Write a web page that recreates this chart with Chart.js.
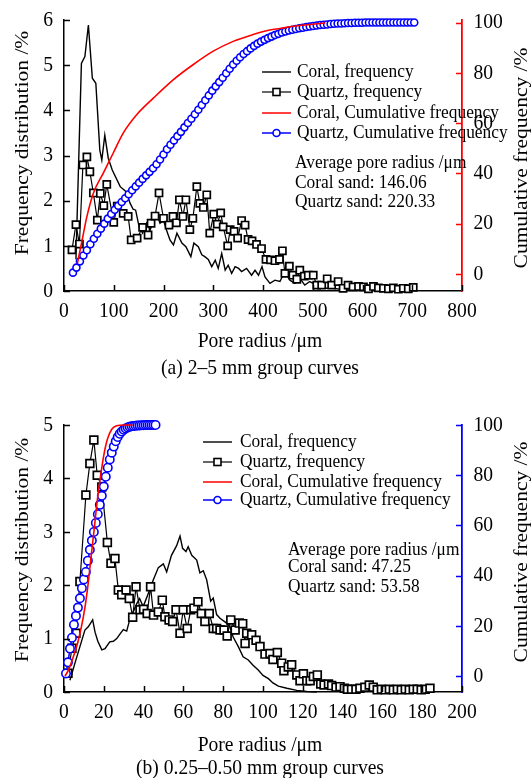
<!DOCTYPE html>
<html>
<head>
<meta charset="utf-8">
<title>Pore radius distribution curves</title>
<script src="https://cdn.jsdelivr.net/npm/chart.js@4.4.1/dist/chart.umd.min.js"></script>
<style>
  html, body { margin: 0; padding: 0; background: #fff; }
  canvas { display: block; }
</style>
</head>
<body>
<canvas id="chartA" width="531" height="380"></canvas>
<canvas id="chartB" width="531" height="398"></canvas>
<script>
// ---------- shared labels ----------
const seriesLabels = ['Coral, frequency', 'Quartz, frequency', 'Coral, Cumulative frequency', 'Quartz, Cumulative frequency'];
const xTitle = 'Pore radius /\u03bcm';
const leftTitle = 'Frequency distribution /%';
const rightTitle = 'Cumulative frequency /%';
const cumTicks = [0, 20, 40, 60, 80, 100];

// ---------- (a) 2–5 mm group ----------
const captionA = '(a) 2\u20135 mm group curves';
const notesA = ['Average pore radius /\u03bcm', 'Coral sand: 146.06', 'Quartz sand: 220.33'];

const coralFreqA_x = [24, 35, 42, 49, 57, 64, 72, 76, 82, 89, 97, 113, 125, 133, 139, 144, 151, 158, 166, 173, 181, 186, 193, 200, 206, 213, 220, 227, 237, 245, 255, 261, 270, 277, 283, 290, 297, 304, 310, 317, 324, 330, 337, 344, 351, 357, 367, 377, 384, 391, 398, 404, 414, 424, 434, 444, 454, 464, 474, 484, 494, 508, 521, 541, 560, 580];
const coralFreqA_y = [0.7, 5.04, 5.19, 5.89, 4.71, 4.6, 3.12, 2.9, 3.45, 2.94, 2.68, 2.31, 2.2, 1.94, 1.81, 1.79, 1.42, 1.28, 1.5, 1.35, 1.57, 1.72, 1.5, 1.57, 1.35, 1.13, 1.02, 1.28, 1.06, 0.98, 0.76, 1.06, 0.98, 0.8, 0.76, 0.7, 0.54, 0.68, 0.5, 0.83, 0.46, 0.57, 0.39, 0.54, 0.5, 0.43, 0.5, 0.35, 0.46, 0.35, 0.54, 0.31, 0.17, 0.24, 0.21, 0.43, 0.24, 0.17, 0.28, 0.13, 0.21, 0.13, 0.06, 0.06, 0.03, 0.02];

const quartzFreqA_x = [16, 24, 31, 38, 46, 52, 59, 67, 73, 80, 86, 100, 107, 119, 129, 135, 147, 158, 169, 175, 183, 191, 200, 211, 219, 226, 232, 239, 245, 253, 259, 267, 273, 280, 287, 293, 301, 308, 315, 320, 329, 334, 342, 349, 357, 364, 370, 378, 387, 397, 406, 415, 424, 433, 439, 444, 453, 460, 468, 474, 483, 491, 501, 508, 518, 529, 538, 551, 561, 571, 581, 592, 602, 612, 622, 632, 642, 652, 662, 672, 682, 692, 702];
const quartzFreqA_y = [0.91, 1.47, 1.04, 2.79, 2.97, 2.64, 2.17, 1.57, 2.16, 1.89, 2.36, 1.52, 1.88, 1.72, 1.65, 1.13, 1.17, 1.41, 1.24, 1.5, 1.66, 2.17, 1.61, 1.46, 1.65, 1.51, 2.02, 1.65, 2.02, 1.36, 1.61, 2.31, 1.94, 1.85, 2.13, 1.28, 1.7, 1.48, 1.73, 1.42, 1.0, 1.36, 1.32, 1.17, 1.56, 1.46, 1.14, 1.11, 1.03, 0.94, 0.7, 0.69, 0.67, 0.7, 0.89, 0.39, 0.55, 0.35, 0.26, 0.46, 0.33, 0.35, 0.35, 0.13, 0.13, 0.27, 0.13, 0.21, 0.06, 0.13, 0.09, 0.1, 0.09, 0.05, 0.1, 0.07, 0.06, 0.05, 0.07, 0.04, 0.06, 0.05, 0.08];

const coralCumA_x = [27, 35, 46, 59, 79, 99, 119, 146, 180, 220, 260, 300, 340, 380, 414, 434, 461, 495, 525];
const coralCumA_y = [4.3, 12, 22.8, 32.1, 40.1, 48.1, 56.0, 63.3, 70.0, 77.3, 83.3, 88.6, 92.5, 95.2, 97.0, 97.6, 98.5, 99.2, 99.8];

const quartzCumA_x = [18, 25, 32, 39, 46, 53, 60, 67, 74, 81, 88, 95, 102, 109, 116, 123, 130, 137, 144, 151, 158, 165, 172, 179, 186, 193, 200, 207, 214, 221, 228, 235, 242, 249, 256, 263, 270, 277, 284, 291, 298, 305, 312, 319, 326, 333, 340, 347, 354, 361, 368, 375, 382, 389, 396, 403, 410, 417, 424, 431, 438, 445, 452, 459, 466, 473, 480, 487, 494, 501, 508, 515, 522, 529, 536, 543, 550, 557, 564, 571, 578, 585, 592, 599, 606, 613, 620, 627, 634, 641, 648, 655, 662, 669, 676, 683, 690, 697, 704];
const quartzCumA_y = [0.5, 2.5, 5.0, 7.3, 9.4, 11.8, 14.0, 16.0, 18.0, 20.0, 22.0, 23.8, 25.5, 27.1, 28.6, 30.1, 31.7, 33.3, 34.8, 36.3, 37.8, 39.2, 40.6, 42.0, 43.6, 45.5, 47.5, 49.6, 51.4, 53.1, 54.8, 56.5, 58.3, 60.0, 61.7, 63.5, 65.3, 67.2, 69.1, 71.0, 72.9, 74.6, 76.3, 78.0, 79.8, 81.6, 83.3, 84.8, 86.2, 87.5, 88.6, 89.7, 90.7, 91.6, 92.4, 93.1, 93.8, 94.4, 95.0, 95.5, 96.0, 96.4, 96.8, 97.1, 97.4, 97.7, 97.9, 98.2, 98.4, 98.6, 98.8, 99.0, 99.1, 99.2, 99.4, 99.5, 99.6, 99.6, 99.7, 99.8, 99.8, 99.9, 99.9, 99.9, 100, 100, 100, 100, 100, 100, 100, 100, 100, 100, 100, 100, 100, 100, 100];

// ---------- (b) 0.25–0.50 mm group ----------
const captionB = '(b) 0.25\u20130.50 mm group curves';
const notesB = ['Average pore radius /\u03bcm', 'Coral sand: 47.25', 'Quartz sand: 53.58'];

const coralFreqB_x = [3, 5.5, 8, 10.5, 12.2, 14.4, 15.6, 17, 19, 20.6, 23, 24.8, 26.5, 28, 29.8, 31.5, 33, 34.8, 36.5, 38, 39.8, 42.4, 44.9, 47.4, 49.9, 51.6, 54, 56.6, 58.3, 59.6, 61.3, 62.4, 64.2, 66.7, 68.3, 70, 71.7, 73.7, 75, 76.7, 78.4, 81.7, 83.4, 85, 87.6, 90, 92.6, 95, 97.6, 100, 102.7, 105, 107.7, 112, 117, 122, 127];
const coralFreqB_y = [0.22, 0.54, 0.85, 1.16, 1.22, 1.35, 1.12, 0.95, 0.79, 0.81, 0.94, 0.95, 1.0, 1.08, 1.17, 1.14, 1.35, 1.5, 1.65, 1.75, 1.6, 1.85, 2.1, 2.33, 2.4, 2.25, 2.56, 2.74, 2.92, 2.69, 2.63, 2.72, 2.56, 2.47, 2.23, 2.27, 2.1, 1.7, 1.76, 1.45, 1.38, 1.29, 1.22, 1.03, 0.85, 0.66, 0.6, 0.5, 0.41, 0.31, 0.25, 0.17, 0.11, 0.07, 0.03, 0.01, 0];

const quartzFreqB_x = [2, 4, 6, 8, 11, 13, 15, 16.7, 19, 21.8, 23.6, 25.6, 27.3, 29, 31.2, 32.8, 34.5, 36.2, 38.2, 40, 41.8, 43.5, 45, 47.4, 49.4, 50.7, 52.8, 54.6, 56.3, 58.3, 59.9, 61.9, 63.7, 65.3, 67.3, 69, 70.8, 73, 75, 76.7, 78.4, 80.4, 82, 83.8, 86, 88.1, 89.8, 91, 91.8, 94.3, 96.5, 98.5, 101, 103.5, 105, 107.2, 109.4, 110.5, 112.7, 114.4, 117, 118.6, 120.3, 122, 123.7, 125.3, 127.3, 129, 130.7, 132.9, 134.5, 136.7, 138.7, 140.9, 142.4, 144.5, 146.7, 148.7, 151.2, 153.4, 155.4, 157.4, 159.5, 161.5, 163.5, 165.5, 167.5, 169.5, 171.5, 173.5, 175.5, 177.5, 179.5, 181.5, 183.9];
const quartzFreqB_y = [0.35, 0.82, 1.1, 2.07, 3.69, 4.28, 4.72, 4.06, 3.84, 2.8, 2.41, 2.5, 1.91, 1.82, 1.91, 1.75, 1.4, 1.97, 1.54, 1.55, 1.47, 1.97, 1.44, 1.5, 1.72, 1.41, 1.35, 1.32, 1.54, 1.1, 1.54, 1.19, 1.54, 1.57, 1.69, 1.47, 1.32, 1.47, 1.19, 1.19, 1.16, 1.16, 1.05, 1.35, 1.16, 1.29, 1.28, 0.91, 1.1, 1.07, 0.97, 0.85, 0.71, 0.72, 0.61, 0.74, 0.54, 0.4, 0.47, 0.51, 0.32, 0.21, 0.34, 0.21, 0.21, 0.29, 0.32, 0.15, 0.13, 0.15, 0.12, 0.09, 0.1, 0.07, 0.05, 0.05, 0.05, 0.07, 0.09, 0.13, 0.09, 0.04, 0.05, 0.04, 0.05, 0.04, 0.05, 0.04, 0.05, 0.04, 0.05, 0.05, 0.04, 0.05, 0.07];

const coralCumB_x = [0.5, 2.2, 4.7, 7.2, 9.7, 11.7, 13.4, 15.1, 16.7, 18.4, 20.1, 21.8, 24, 26.5, 30, 34.5];
const coralCumB_y = [0, 2.4, 7.7, 14.3, 23.5, 34, 46, 58, 69.8, 79.8, 88.4, 94.3, 98.3, 99.7, 100, 100];

const quartzCumB_x = [1, 2, 3, 4, 5, 6, 7, 8, 9, 10, 11, 12, 13, 14, 15, 16, 17, 18, 19, 20, 21, 22, 23, 24, 25, 26, 27, 28, 29, 30, 31, 32, 33, 34, 35, 36, 37, 38, 39, 40, 41, 42, 43, 44, 45, 46];
const quartzCumB_y = [1.1, 5.5, 11, 15.3, 20.5, 24, 27.3, 31, 35, 38.5, 41.5, 46, 50.3, 54, 57.4, 61, 64.5, 68.2, 71.8, 75.5, 79.4, 83, 86.3, 89, 91.4, 93.5, 95.2, 96.5, 97.4, 98.1, 98.6, 99, 99.3, 99.5, 99.6, 99.7, 99.8, 99.85, 99.9, 99.9, 100, 100, 100, 100, 100, 100];

// ---------- drawing ----------
const FONT = "'Liberation Serif', 'Times New Roman', serif";
const SX = 0.89; // the source figure's text is a little narrow for its height
Chart.defaults.font.family = FONT;
Chart.defaults.color = '#000';

function pairs(xs, ys) {
    return xs.map((x, i) => ({ x: x, y: ys[i] }));
}

function drawText(ctx, s, x, y, size, align, rotate) {
    ctx.save();
    ctx.translate(x, y);
    ctx.scale(SX, 1);
    if (rotate) ctx.rotate(-Math.PI / 2);
    ctx.font = size + 'px ' + FONT;
    ctx.textAlign = align;
    ctx.textBaseline = 'middle';
    ctx.fillStyle = '#000';
    ctx.fillText(s, 0, 0);
    ctx.restore();
}

// inward ticks, tick labels, legend, notes and axis titles
const decorPlugin = {
    id: 'decor',
    afterDraw(chart, args, o) {
        const ctx = chart.ctx;
        const a = chart.chartArea;
        const { x, y, y1 } = chart.scales;
        ctx.save();

        // tick marks point into the plot
        ctx.lineWidth = 1.5;
        ctx.strokeStyle = '#000';
        ctx.beginPath();
        x.ticks.forEach(t => {
            const px = Math.round(x.getPixelForValue(t.value)) + 0.5;
            ctx.moveTo(px, a.bottom);
            ctx.lineTo(px, a.bottom - 6);
        });
        y.ticks.forEach(t => {
            const py = Math.round(y.getPixelForValue(t.value)) + 0.5;
            ctx.moveTo(a.left, py);
            ctx.lineTo(a.left + 6, py);
        });
        ctx.stroke();
        ctx.strokeStyle = o.axisColor;
        ctx.beginPath();
        y1.ticks.forEach(t => {
            const py = Math.round(y1.getPixelForValue(t.value)) + 0.5;
            ctx.moveTo(a.right, py);
            ctx.lineTo(a.right - 6, py);
        });
        ctx.stroke();

        // tick labels
        x.ticks.forEach(t => drawText(ctx, String(t.value), x.getPixelForValue(t.value), a.bottom + 20.5, 22, 'center'));
        y.ticks.forEach(t => drawText(ctx, String(t.value), a.left - 11, y.getPixelForValue(t.value), 22, 'right'));
        y1.ticks.forEach(t => drawText(ctx, String(t.value), a.right + 11.5, y1.getPixelForValue(t.value), 22, 'left'));

        // legend
        const lg = o.legend;
        const mid = (lg.x0 + lg.x1) / 2;
        const styles = [
            { color: '#000', width: 1.4, marker: null },
            { color: '#000', width: 1.2, marker: 'rect' },
            { color: '#ff0000', width: 1.5, marker: null },
            { color: '#0000ff', width: 1.5, marker: 'circle' }
        ];
        seriesLabels.forEach((label, i) => {
            const s = styles[i];
            const ly = lg.ys[i];
            ctx.strokeStyle = s.color;
            ctx.lineWidth = s.width;
            ctx.beginPath();
            ctx.moveTo(lg.x0, ly);
            ctx.lineTo(lg.x1, ly);
            ctx.stroke();
            ctx.lineWidth = 1.6;
            ctx.fillStyle = '#fff';
            if (s.marker === 'rect') {
                ctx.fillRect(mid - 3.5, ly - 3.5, 7, 7);
                ctx.strokeRect(mid - 3.5, ly - 3.5, 7, 7);
            } else if (s.marker === 'circle') {
                ctx.beginPath();
                ctx.arc(mid, ly, 3.5, 0, Math.PI * 2);
                ctx.fill();
                ctx.stroke();
            }
            drawText(ctx, label, lg.textX, ly, 19.5, 'left');
        });

        // average pore radius notes
        o.notes.lines.forEach((line, i) => drawText(ctx, line, o.notes.x, o.notes.ys[i], 19.5, 'left'));

        // titles
        const t = o.titles;
        drawText(ctx, xTitle, t.cx, t.xTitleY, 22, 'center');
        drawText(ctx, t.caption, t.cx, t.captionY, 22, 'center');
        drawText(ctx, leftTitle, t.leftX, t.leftY, 21.5, 'center', true);
        drawText(ctx, rightTitle, t.rightX, t.rightY, 21.5, 'center', true);
        ctx.restore();
    }
};

function makePanel(canvasId, p) {
    const ctx = document.getElementById(canvasId).getContext('2d');
    return new Chart(ctx, {
        type: 'line',
        data: {
            datasets: [
                {
                    label: seriesLabels[0],
                    data: pairs(p.coralFreq[0], p.coralFreq[1]),
                    yAxisID: 'y',
                    borderColor: '#000',
                    borderWidth: 1.4,
                    pointRadius: 0,
                    clip: false,
                    order: 4
                },
                {
                    label: seriesLabels[1],
                    data: pairs(p.quartzFreq[0], p.quartzFreq[1]),
                    yAxisID: 'y',
                    borderColor: '#000',
                    borderWidth: 1.2,
                    pointStyle: 'rect',
                    pointRadius: p.squareR,
                    pointBorderWidth: 1.7,
                    pointBorderColor: '#000',
                    pointBackgroundColor: '#fff',
                    clip: false,
                    order: 3
                },
                {
                    label: seriesLabels[2],
                    data: pairs(p.coralCum[0], p.coralCum[1]),
                    yAxisID: 'y1',
                    borderColor: '#ff0000',
                    borderWidth: 1.6,
                    pointRadius: 0,
                    cubicInterpolationMode: 'monotone',
                    clip: false,
                    order: 1
                },
                {
                    label: seriesLabels[3],
                    data: pairs(p.quartzCum[0], p.quartzCum[1]),
                    yAxisID: 'y1',
                    borderColor: '#0000ff',
                    borderWidth: 1.5,
                    pointStyle: 'circle',
                    pointRadius: p.circleR,
                    pointBorderWidth: 1.6,
                    pointBorderColor: '#0000ff',
                    pointBackgroundColor: '#fff',
                    clip: false,
                    order: 2
                }
            ]
        },
        options: {
            responsive: false,
            animation: false,
            devicePixelRatio: 1,
            layout: { padding: { top: p.topPad, left: 0, right: 0, bottom: 0 } },
            plugins: {
                legend: { display: false },
                tooltip: { enabled: false },
                decor: p.decor
            },
            scales: {
                x: {
                    type: 'linear',
                    min: 0,
                    max: p.xMax,
                    grid: { display: false, drawTicks: false },
                    border: { display: true, color: '#000', width: 1.5 },
                    ticks: { display: false, stepSize: p.xStep, autoSkip: false },
                    afterFit: s => { s.height = p.bottomH; }
                },
                y: {
                    position: 'left',
                    min: 0,
                    max: p.yMax,
                    grid: { display: false, drawTicks: false },
                    border: { display: true, color: '#000', width: 1.5 },
                    ticks: { display: false, stepSize: 1 },
                    afterFit: s => { s.width = 64; }
                },
                y1: {
                    position: 'right',
                    min: p.cumMin,
                    max: p.cumMax,
                    grid: { display: false, drawTicks: false },
                    border: { display: true, color: p.decor.axisColor, width: 1.8 },
                    ticks: { display: false },
                    afterBuildTicks: s => { s.ticks = cumTicks.map(v => ({ value: v })); },
                    afterFit: s => { s.width = 69; }
                }
            }
        },
        plugins: [decorPlugin]
    });
}

makePanel('chartA', {
    coralFreq: [coralFreqA_x, coralFreqA_y],
    quartzFreq: [quartzFreqA_x, quartzFreqA_y],
    coralCum: [coralCumA_x, coralCumA_y],
    quartzCum: [quartzCumA_x, quartzCumA_y],
    xMax: 800, xStep: 100, yMax: 6, cumMin: -6.8, cumMax: 101,
    topPad: 20, bottomH: 89, squareR: 5, circleR: 3.5,
    decor: {
        axisColor: '#ff0000',
        legend: { x0: 262, x1: 291, textX: 297, ys: [72, 92, 113, 133] },
        notes: { x: 295, ys: [163, 183, 202], lines: notesA },
        titles: { cx: 260, xTitleY: 341, captionY: 368, caption: captionA, leftX: 23, leftY: 143, rightX: 522, rightY: 158 }
    }
});

makePanel('chartB', {
    coralFreq: [coralFreqB_x, coralFreqB_y],
    quartzFreq: [quartzFreqB_x, quartzFreqB_y],
    coralCum: [coralCumB_x, coralCumB_y],
    quartzCum: [quartzCumB_x, quartzCumB_y],
    xMax: 200, xStep: 20, yMax: 5, cumMin: -6.3, cumMax: 100,
    topPad: 45, bottomH: 86, squareR: 5.5, circleR: 4.2,
    decor: {
        axisColor: '#0000ff',
        legend: { x0: 203, x1: 232, textX: 240, ys: [62, 82, 102, 120] },
        notes: { x: 288, ys: [170, 187, 207], lines: notesB },
        titles: { cx: 260, xTitleY: 365, captionY: 388, caption: captionB, leftX: 23, leftY: 170, rightX: 522, rightY: 172 }
    }
});
</script>
</body>
</html>
